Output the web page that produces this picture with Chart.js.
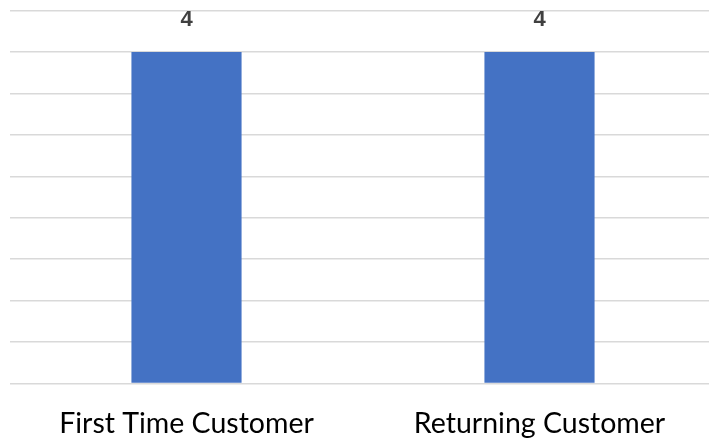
<!DOCTYPE html>
<html>
<head>
<meta charset="utf-8">
<script src="https://cdn.jsdelivr.net/npm/chart.js@4/dist/chart.umd.min.js"></script>
<style>
html,body{margin:0;padding:0;background:#fff;overflow:hidden;}
#wrap{position:absolute;left:0;top:0;width:716px;height:441px;}
</style>
</head>
<body>
<div id="wrap"><canvas id="c"></canvas></div>
<script>
const categories = ["First Time Customer", "Returning Customer"];
const counts = [4, 4];
const yMin = 0, yMax = 4.5, yStep = 0.5;

const valueLabels = {
  id: 'valueLabels',
  afterDatasetsDraw(chart) {
    const ctx = chart.ctx;
    const meta = chart.getDatasetMeta(0);
    ctx.save();
    ctx.font = 'bold 22px "Liberation Sans"';
    ctx.fillStyle = '#404040';
    ctx.textAlign = 'center';
    ctx.textBaseline = 'alphabetic';
    meta.data.forEach((bar, i) => {
      ctx.fillText(String(counts[i]), bar.x, bar.y - 25.5);
    });
    ctx.restore();
  }
};

new Chart(document.getElementById('c'), {
  type: 'bar',
  data: {
    labels: categories,
    datasets: [{
      data: counts,
      backgroundColor: '#4472C4',
      borderWidth: 0,
      categoryPercentage: 1,
      barPercentage: 0.312
    }]
  },
  options: {
    responsive: true,
    maintainAspectRatio: false,
    animation: false,
    layout: { padding: { left: 10, top: 10.5, right: 0, bottom: 0 } },
    plugins: { legend: { display: false }, tooltip: { enabled: false } },
    scales: {
      x: {
        grid: { display: false },
        border: { display: false },
        ticks: { color: '#000', font: { family: 'Lato', size: 28.5 }, padding: 15, maxRotation: 0 },
        afterFit(s) { s.height = 57.5; }
      },
      y: {
        min: yMin, max: yMax,
        ticks: { display: false, stepSize: yStep },
        grid: { color: '#d9d9d9', lineWidth: 1.5, drawTicks: false },
        border: { display: false },
        afterFit(s) { s.width = 0; }
      }
    }
  },
  plugins: [valueLabels]
});
</script>
</body>
</html>
